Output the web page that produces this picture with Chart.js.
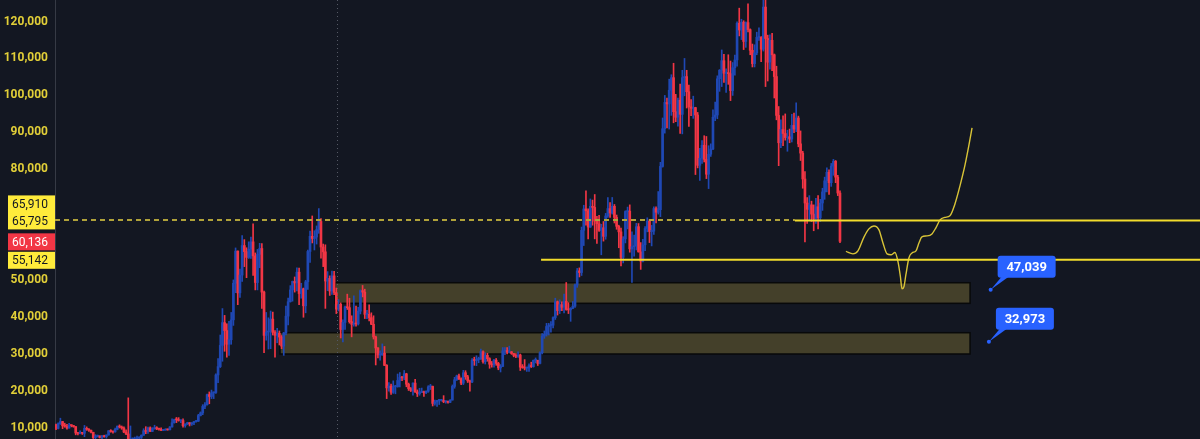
<!DOCTYPE html>
<html>
<head>
<meta charset="utf-8">
<script src="https://cdn.jsdelivr.net/npm/chart.js@4.4.1/dist/chart.umd.min.js"></script>
<style>
  html, body { margin: 0; padding: 0; background: #131722; }
  #wrap { width: 1200px; height: 439px; }
</style>
</head>
<body>
<div id="wrap"><canvas id="myChart" width="1200" height="439"></canvas></div>
<script>
// weekly candles, open of each week = close of the week before
const firstOpen = 10540;

const closes = [
  9530, 10820, 11390, 10230, 10140, 9630, 10400, 10320, 10030, 8300,
  8150, 8300, 8220, 9550, 9300, 9050, 8500, 7050, 7400, 7500,
  7060, 7520, 7300, 7760, 8900, 8700, 8600, 9300, 10150, 9900,
  9650, 8550, 8040, 5360, 5830, 5880, 6780, 6900, 7120, 7700,
  8900, 8720, 9680, 8720, 9450, 9750, 9400, 9300, 9010, 9070,
  9240, 9160, 9940, 11080, 11900, 11850, 11650, 11660, 10270, 10690,
  11080, 10750, 11070, 11390, 11500, 13030, 13740, 15480, 15960, 18680,
  18180, 19150, 19250, 24000, 26250, 32000, 38150, 36000, 32300, 33520,
  38900, 48800, 57500, 46200, 51000, 59000, 57350, 55800, 58000, 60000,
  56200, 49000, 56600, 58200, 46400, 34700, 35600, 35800, 39100, 35500,
  34700, 35300, 34250, 31800, 35400, 39900, 43800, 47000, 49300, 48900,
  51800, 46000, 47300, 42700, 49200, 57400, 61500, 60900, 61300, 63300,
  65500, 58600, 57300, 49400, 50100, 46700, 50800, 46300, 41800, 43100,
  36300, 38200, 42400, 42200, 38400, 37700, 38000, 37800, 41250, 46800,
  46400, 40400, 40400, 39500, 37700, 34300, 31300, 29400, 29400, 29900,
  26600, 20500, 21000, 19300, 20800, 20800, 22500, 23300, 23200, 24300,
  21500, 20300, 19800, 21800, 19400, 18900, 19300, 19400, 19200, 19600,
  20800, 20900, 16300, 16700, 17100, 17100, 17100, 16750, 16900, 16600,
  17200, 20900, 22700, 23750, 22950, 21800, 24600, 23500, 22400, 22100,
  28000, 27900, 28200, 28300, 30300, 27600, 29300, 28400, 26900, 26750,
  28000, 27100, 25900, 26300, 30500, 30600, 30200, 30250, 29800, 29300,
  29050, 29400, 26100, 26000, 25850, 25850, 26550, 26250, 27950, 27950,
  27100, 30000, 34500, 35000, 37100, 37400, 37450, 39500, 43800, 41400,
  43000, 42300, 43900, 41700, 41600, 42000, 42600, 48300, 52150, 51700,
  63100, 68900, 68400, 64000, 69600, 69300, 65600, 64900, 63100, 63800,
  61500, 67000, 69000, 67800, 69600, 66600, 64200, 62700, 55800, 60800,
  68200, 68300, 58100, 58700, 58900, 64100, 57300, 54800, 59200, 63600,
  65600, 62800, 62900, 69000, 68000, 68700, 80400, 90600, 97700, 97300,
  101000, 104400, 95200, 93700, 98300, 94500, 104400, 104700, 100600, 96500,
  96100, 96300, 94300, 80700, 82600, 86100, 82300, 78300, 83700, 85100,
  93700, 94300, 104100, 106400, 109000, 105600, 105700, 105500, 100900, 107100,
  109200, 119100, 117300, 119400, 114200, 119300, 117400, 111800, 108200, 111100,
  115300, 115300, 112100, 123500, 115000, 108600, 114500, 110600, 104700, 94200,
  86800, 90400, 89300, 88200, 88400, 87800, 91500, 90500, 93500, 86500,
  84000, 77000, 70500, 68800, 70000, 67500, 66200, 69500, 66500, 70500,
  73500, 76500, 78800, 76000, 80500, 81800, 77500, 73200, 60136
];

const highs = [
  10680, 11050, 12300, 11450, 10950, 10620, 10900, 10450, 10350, 10050,
  8500, 8850, 8400, 10350, 9950, 9500, 9100, 8500, 7850, 7750,
  7520, 7650, 7700, 7800, 8950, 9200, 8750, 9600, 10200, 10500,
  10200, 9950, 9150, 17800, 10200, 6950, 7200, 7450, 7300, 7800,
  9450, 10000, 9900, 9950, 9750, 10400, 10000, 9600, 9700, 9300,
  9450, 9350, 10050, 12100, 12050, 12500, 12450, 11700, 12100, 10800,
  11200, 11100, 11100, 11450, 11700, 13350, 14000, 15950, 16500, 18800,
  19400, 19900, 19400, 24300, 28400, 34800, 41950, 40100, 37850, 38500,
  40900, 49700, 58350, 57550, 52600, 61700, 60600, 58400, 60000, 61300,
  64850, 57000, 57950, 59600, 59500, 46650, 40900, 39450, 41300, 41000,
  36000, 36600, 35900, 34650, 35500, 42600, 44800, 48150, 49400, 50500,
  52950, 52900, 48800, 47500, 49600, 57800, 62900, 67000, 63000, 64300,
  69000, 66300, 59400, 59200, 51950, 50800, 52100, 52000, 47500, 44400,
  43500, 38900, 42600, 45850, 44750, 40000, 45400, 42600, 42300, 47000,
  48200, 47200, 41500, 42950, 40800, 40000, 34500, 31400, 30500, 32400,
  31700, 26800, 21900, 21500, 22400, 21200, 24250, 24650, 23650, 25200,
  24450, 21800, 20600, 21850, 22800, 19950, 20400, 20450, 19650, 19700,
  21100, 21450, 21000, 17200, 17150, 17400, 17400, 18400, 17000, 16950,
  17300, 21300, 23350, 23950, 24250, 23200, 25250, 25150, 23900, 22600,
  28400, 28800, 29200, 28800, 31000, 30500, 30000, 29850, 28650, 27650,
  28250, 28450, 27400, 26800, 31400, 31400, 31400, 31800, 30350, 29850,
  29750, 30250, 29650, 26800, 28150, 26100, 27000, 27450, 28050, 28600,
  28000, 30250, 35200, 35900, 37950, 37950, 38400, 39700, 44750, 44000,
  44300, 43800, 45900, 49000, 43550, 42200, 43850, 48600, 52800, 52950,
  64000, 69900, 73800, 68900, 71600, 71300, 72800, 66900, 67200, 64750,
  65500, 67700, 71950, 70600, 72000, 70100, 67250, 64500, 63700, 61400,
  68400, 69400, 70000, 62700, 61800, 65000, 64950, 59800, 60650, 64100,
  66500, 66000, 64450, 69500, 69500, 73600, 81500, 93500, 99600, 98900,
  104000, 105200, 108300, 99900, 98900, 102700, 106400, 109600, 106400, 102400,
  98500, 99400, 96400, 95000, 85300, 87400, 88700, 88500, 86000, 86500,
  95700, 97800, 104900, 106600, 111900, 110700, 106800, 110600, 108900, 108500,
  110500, 119500, 123200, 120200, 119800, 119500, 124400, 117600, 113500, 113300,
  116700, 117900, 115500, 125700, 126200, 115900, 116000, 116400, 110800, 107500,
  96600, 93000, 94100, 94600, 90200, 90500, 94500, 94800, 97600, 94000,
  90000, 84500, 79000, 72000, 72500, 71000, 70000, 71800, 72500, 71500,
  74500, 77500, 80000, 79500, 81200, 82300, 82000, 78000, 73800
];

const lows = [
  9170, 9400, 10600, 9470, 9850, 9330, 9600, 9950, 9850, 7800,
  7800, 8050, 7900, 7300, 9000, 8700, 8350, 6800, 6550, 7200,
  6950, 6450, 7150, 6900, 7700, 8500, 8250, 8550, 9150, 9650,
  9300, 8400, 7850, 3800, 4450, 5700, 5850, 6750, 6500, 6800,
  7650, 8100, 8200, 8700, 8650, 9300, 9200, 9050, 8900, 8950,
  9050, 9050, 9130, 9900, 10950, 11100, 11500, 11100, 9900, 9850,
  10600, 10200, 10350, 10550, 11200, 11400, 12900, 13250, 14850, 15800,
  16200, 17600, 17600, 19000, 21900, 26000, 27700, 30400, 28800, 29250,
  32300, 37400, 46250, 43000, 45000, 49300, 53300, 50300, 55500, 55500,
  50900, 47000, 47000, 53000, 42000, 30000, 33400, 31000, 31100, 34800,
  28800, 32700, 32100, 31100, 29300, 34850, 37500, 43700, 43950, 46400,
  46750, 43000, 44750, 39600, 40800, 47100, 54400, 59700, 57800, 59400,
  62300, 55600, 53300, 42000, 46800, 45500, 45800, 45700, 40600, 41300,
  34000, 32900, 36300, 41700, 38000, 34300, 37200, 37200, 37500, 40500,
  45100, 39250, 39200, 38600, 37600, 33700, 26700, 28600, 28000, 29300,
  26500, 17600, 19600, 18700, 19000, 18900, 20700, 20750, 22450, 22700,
  20800, 19800, 19500, 18550, 19300, 18150, 18500, 19250, 18200, 18900,
  19300, 20050, 15600, 15800, 15500, 16000, 16900, 16500, 16350, 16350,
  16500, 17200, 20400, 22500, 22700, 21400, 21400, 22800, 21950, 19600,
  21900, 26600, 26500, 27300, 28200, 27150, 26950, 27700, 25800, 26100,
  26100, 26600, 25400, 24800, 26250, 29500, 29700, 29950, 29550, 28900,
  28700, 28750, 25200, 25800, 25350, 24950, 24950, 26000, 26100, 27250,
  26550, 26950, 29700, 33900, 34500, 34800, 35600, 36700, 39000, 40200,
  40600, 41400, 40750, 41500, 40600, 38500, 41900, 42250, 47700, 50500,
  50900, 59000, 64500, 60800, 63900, 64500, 60800, 59600, 62800, 56500,
  60200, 60700, 66600, 66600, 67500, 65100, 63400, 58400, 53500, 54300,
  59700, 63500, 57200, 49000, 56100, 57800, 57200, 52550, 54600, 57600,
  62700, 59800, 58900, 62000, 65100, 67500, 66800, 80200, 89400, 90800,
  90500, 94200, 92200, 92500, 91300, 89300, 89200, 99500, 96200, 91200,
  94100, 93400, 78200, 80000, 76600, 81200, 81600, 77100, 74400, 83100,
  84900, 92800, 93300, 100700, 102000, 103100, 100400, 102600, 98200, 99600,
  105100, 107500, 115700, 114700, 112000, 112600, 116800, 110600, 107300, 107300,
  110600, 114500, 108700, 111600, 102000, 103500, 106700, 106300, 98900, 93000,
  80600, 85500, 86000, 87500, 84500, 86800, 87000, 89500, 89800, 85700,
  82000, 74500, 60000, 65000, 66000, 65500, 63000, 65000, 63500, 65500,
  68500, 71500, 73500, 72800, 75000, 78000, 76000, 72500, 59800
];

// y axis tick values
const yTicks = [10000, 20000, 30000, 40000, 50000, 80000, 90000, 100000, 110000, 120000];

// drawn projection (week index, price)
const pathIdx = [360.7, 363.9, 366.2, 369.0, 371.2, 373.5, 375.8, 377.6, 379.5, 381.3,
  383.1, 384.5, 385.6, 386.3, 387.2, 388.1, 389.5, 390.9, 392.7, 394.1,
  395.4, 397.7, 400.0, 401.8, 403.7, 405.9, 408.2, 410.5, 412.8, 415.1, 416.9, 418.3];
const pathPrice = [57400, 56750, 57550, 61350, 63500, 64300, 63250, 59750, 56750, 56500,
  57100, 54600, 50550, 47300, 47850, 51100, 55700, 57000, 57550, 59750,
  61350, 61600, 62150, 63800, 65950, 66600, 67050, 70250, 75150, 80800, 86200, 90800];

// levels
const dashLevel = 65910;
const lineLevels = [65795, 55142];
const lineStart = [337.4, 221.5];
const zoneTop = [48940, 35420];
const zoneBottom = [43370, 29660];
const zoneStart = [127.4, 102.3];
const zoneEnd = [417.4, 417.4];
const markerIdx = 128.3;
const calloutValues = [47039, 32973];
const calloutIdx = [426.8, 426.0];
const lastPrice = 60136;

const fmt = v => v.toLocaleString('en-US');

let opens = closes.map((c, i) => i === 0 ? firstOpen : closes[i - 1]);
let bodyData = [], wickData = [], colors = [];
for (let i = 0; i < closes.length; i++) {
    bodyData.push({ x: i, y: [opens[i], closes[i]] });
    wickData.push({ x: i, y: [lows[i], highs[i]] });
    colors.push(closes[i] >= opens[i] ? '#1f48b4' : '#f23645');
}

const overlay = {
    id: 'overlay',
    beforeDatasetsDraw(chart) {
        const { ctx, scales: { x, y } } = chart;
        ctx.save();
        for (let k = 0; k < zoneTop.length; k++) {
            const x0 = x.getPixelForValue(zoneStart[k]);
            const x1 = x.getPixelForValue(zoneEnd[k]);
            const y0 = y.getPixelForValue(zoneTop[k]);
            const y1 = y.getPixelForValue(zoneBottom[k]);
            ctx.fillStyle = '#44402a';
            ctx.fillRect(x0, y0, x1 - x0, y1 - y0);
            ctx.strokeStyle = '#08090a';
            ctx.lineWidth = 1.5;
            ctx.strokeRect(x0, y0, x1 - x0, y1 - y0);
        }
        ctx.restore();
    },
    afterDatasetsDraw(chart) {
        const { ctx, chartArea: a, scales: { x, y } } = chart;
        ctx.save();
        // dotted vertical marker
        const mx = Math.round(x.getPixelForValue(markerIdx)) + 0.5;
        ctx.strokeStyle = '#555965';
        ctx.lineWidth = 1;
        ctx.setLineDash([1, 3]);
        ctx.beginPath(); ctx.moveTo(mx, a.top); ctx.lineTo(mx, a.bottom); ctx.stroke();

        // dashed level
        const dy = y.getPixelForValue(dashLevel);
        ctx.strokeStyle = '#b0a23a';
        ctx.lineWidth = 2;
        ctx.setLineDash([5, 4]);
        ctx.beginPath(); ctx.moveTo(a.left, dy); ctx.lineTo(x.getPixelForValue(lineStart[0]), dy); ctx.stroke();
        ctx.setLineDash([]);

        // solid levels
        ctx.strokeStyle = '#f2dc2c';
        ctx.lineWidth = 2;
        for (let k = 0; k < lineLevels.length; k++) {
            const ly = y.getPixelForValue(lineLevels[k]);
            ctx.beginPath(); ctx.moveTo(x.getPixelForValue(lineStart[k]), ly); ctx.lineTo(a.right, ly); ctx.stroke();
        }

        // blue callouts
        ctx.font = 'bold 13px Roboto';
        ctx.textAlign = 'center';
        ctx.textBaseline = 'middle';
        for (let k = 0; k < calloutValues.length; k++) {
            const px = x.getPixelForValue(calloutIdx[k]);
            const py = y.getPixelForValue(calloutValues[k]);
            ctx.fillStyle = '#2962ff';
            ctx.beginPath(); ctx.arc(px, py, 2, 0, Math.PI * 2); ctx.fill();
            ctx.beginPath();
            ctx.moveTo(px, py);
            ctx.lineTo(px + 11, py - 13);
            ctx.lineTo(px + 18, py - 13);
            ctx.closePath(); ctx.fill();
            ctx.beginPath(); ctx.roundRect(px + 7, py - 34, 58, 22, 3); ctx.fill();
            ctx.fillStyle = '#ffffff';
            ctx.fillText(fmt(calloutValues[k]), px + 36, py - 22.5);
        }
        ctx.restore();
    },
    afterDraw(chart) {
        const { ctx, scales: { y } } = chart;
        ctx.save();
        ctx.font = '12px Roboto';
        ctx.textAlign = 'right';
        ctx.textBaseline = 'middle';
        // 65,910 / 65,795 stacked tag
        let cy = y.getPixelForValue(lineLevels[0]);
        ctx.fillStyle = '#ffeb3b';
        ctx.fillRect(8, cy - 25, 47, 34);
        ctx.fillStyle = '#131722';
        ctx.fillText(fmt(dashLevel), 48, cy - 15);
        ctx.fillText(fmt(lineLevels[0]), 48, cy + 2);
        // last price tag
        cy = y.getPixelForValue(lastPrice);
        ctx.fillStyle = '#f23645';
        ctx.fillRect(8, cy - 8, 47, 17);
        ctx.fillStyle = '#ffffff';
        ctx.fillText(fmt(lastPrice), 48, cy + 1.5);
        // lower level tag
        cy = y.getPixelForValue(lineLevels[1]);
        ctx.fillStyle = '#ffeb3b';
        ctx.fillRect(8, cy - 8, 47, 17);
        ctx.fillStyle = '#131722';
        ctx.fillText(fmt(lineLevels[1]), 48, cy + 1.5);
        ctx.restore();
    }
};

Chart.defaults.font.family = 'Roboto';

const myChart = document.getElementById('myChart');

let candleChart = new Chart(myChart, {
    type: 'bar',
    data: {
        datasets: [
            {
                type: 'line',
                label: 'path',
                data: pathIdx.map((v, k) => ({ x: v, y: pathPrice[k] })),
                borderColor: '#d9c437',
                borderWidth: 1.4,
                pointRadius: 0,
                cubicInterpolationMode: 'monotone',
                order: 0
            },
            {
                label: 'body',
                data: bodyData,
                backgroundColor: colors,
                barThickness: 2,
                minBarLength: 1,
                grouped: false,
                order: 1
            },
            {
                label: 'wick',
                data: wickData,
                backgroundColor: colors,
                barThickness: 1,
                grouped: false,
                order: 2
            }
        ]
    },
    options: {
        responsive: false,
        animation: false,
        devicePixelRatio: 1,
        events: [],
        layout: { padding: 0 },
        plugins: {
            legend: { display: false },
            tooltip: { enabled: false }
        },
        scales: {
            x: {
                type: 'linear',
                min: -0.46,
                max: 522.4,
                offset: false,
                display: false
            },
            y: {
                type: 'linear',
                position: 'left',
                min: 6673,
                max: 125410,
                grid: { display: false, drawTicks: false },
                border: { display: true, color: '#363a45', width: 1 },
                ticks: {
                    color: '#e2cf38',
                    padding: 7,
                    labelOffset: 1.5,
                    font: { size: 12, weight: 'bold' },
                    callback: v => fmt(v)
                },
                afterBuildTicks: s => { s.ticks = yTicks.map(v => ({ value: v })); },
                afterFit: s => { s.width = 55; s.paddingTop = 0; s.paddingBottom = 0; }
            }
        }
    },
    plugins: [overlay]
});
</script>
</body>
</html>
